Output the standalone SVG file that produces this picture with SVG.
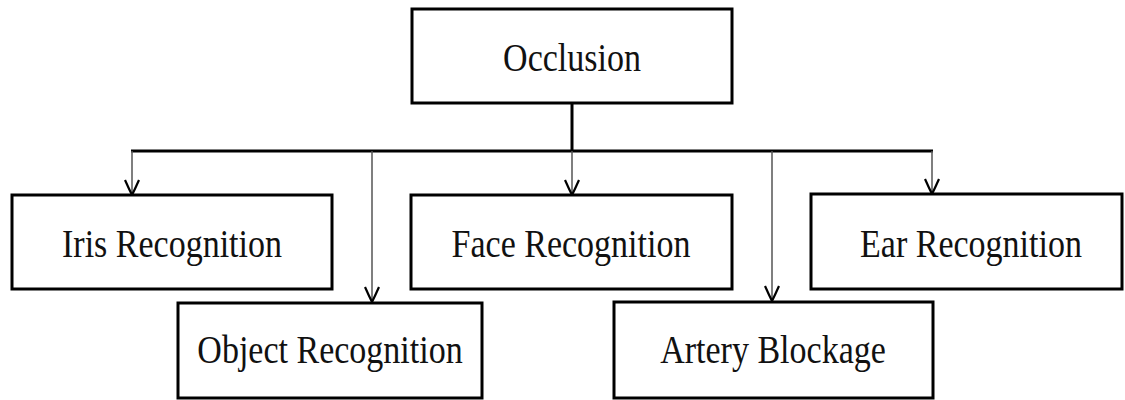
<svg xmlns="http://www.w3.org/2000/svg" width="1125" height="400" viewBox="0 0 1125 400">
<style>
.box{fill:#fff;stroke:#000;stroke-width:3}
.lbl{font-family:"Liberation Serif","Times New Roman",serif;font-size:34px;fill:#111;text-anchor:middle}
.thick{stroke:#000;stroke-width:3;fill:none}
.thin{stroke:#555;stroke-width:1.5;fill:none}
</style>
<defs>
<marker id="ah" markerWidth="18" markerHeight="16" refX="16" refY="8" orient="auto" markerUnits="userSpaceOnUse">
<path d="M1,1 Q10,5 16,8 Q10,11 1,15" fill="none" stroke="#000" stroke-width="2.2"/>
</marker>
</defs>
<rect width="1125" height="400" fill="#fff"/>
<g id="connectors">
<line class="thick" x1="572" y1="103" x2="572" y2="151"/>
<line class="thick" x1="131" y1="151" x2="933" y2="151"/>
<line class="thin" x1="132" y1="151" x2="132" y2="195" marker-end="url(#ah)"/>
<line class="thin" x1="372" y1="151" x2="372" y2="302" marker-end="url(#ah)"/>
<line class="thin" x1="572" y1="151" x2="572" y2="195" marker-end="url(#ah)"/>
<line class="thin" x1="772" y1="151" x2="772" y2="301" marker-end="url(#ah)"/>
<line class="thin" x1="932" y1="151" x2="932" y2="194" marker-end="url(#ah)"/>
</g>
<g id="occlusion">
<rect class="box" x="412" y="9" width="320" height="94"/>
<text class="lbl" transform="translate(572,71) scale(1,1.2)">Occlusion</text>
</g>
<g id="iris">
<rect class="box" x="12" y="195" width="320" height="94"/>
<text class="lbl" transform="translate(172,257) scale(1,1.2)">Iris Recognition</text>
</g>
<g id="face">
<rect class="box" x="411" y="195" width="321" height="94"/>
<text class="lbl" transform="translate(571,257) scale(1,1.2)">Face Recognition</text>
</g>
<g id="ear">
<rect class="box" x="811" y="194" width="311" height="95"/>
<text class="lbl" transform="translate(971,257) scale(1,1.2)">Ear Recognition</text>
</g>
<g id="object">
<rect class="box" x="178" y="303" width="304" height="95"/>
<text class="lbl" transform="translate(330,363) scale(1,1.2)">Object Recognition</text>
</g>
<g id="artery">
<rect class="box" x="614" y="302" width="319" height="96"/>
<text class="lbl" transform="translate(773,363) scale(1,1.2)">Artery Blockage</text>
</g>
</svg>
